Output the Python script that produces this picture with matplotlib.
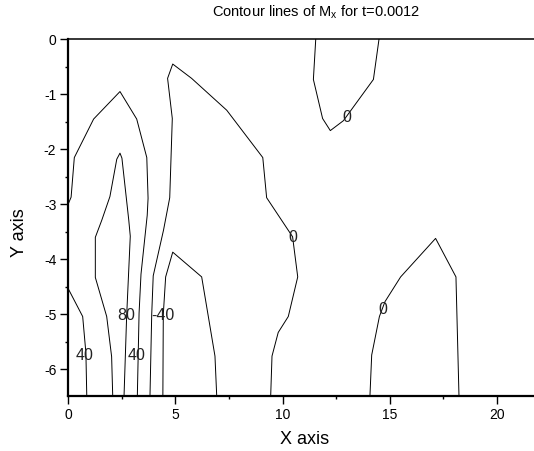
import matplotlib
matplotlib.use("Agg")
import matplotlib.pyplot as plt
from matplotlib.ticker import MultipleLocator

plt.rcParams['font.family'] = ['Liberation Sans', 'DejaVu Sans']
plt.rcParams['axes.unicode_minus'] = False

# contour lines of M_x, one polyline per line
line_c_x = [0.0, 0.68, 0.83, 0.87]
line_c_y = [-4.53, -5.04, -5.7, -6.47]

line_a_x = [0.0, 0.14, 0.29, 1.19, 2.42, 3.2, 3.67, 3.73, 3.69, 3.4, 3.31, 3.23]
line_a_y = [-3.0, -2.87, -2.15, -1.45, -0.95, -1.45, -2.15, -2.89, -3.2, -4.27, -4.98, -6.47]

line_b_x = [2.08, 2.03, 1.8, 1.27, 1.27, 1.57, 1.95, 2.27, 2.42, 2.51, 2.83, 2.9, 2.73, 2.61]
line_b_y = [-6.47, -5.77, -5.04, -4.33, -3.6, -3.29, -2.86, -2.18, -2.07, -2.16, -3.29, -3.58, -5.04, -6.47]

line_d_x = [3.82, 3.9, 3.97, 4.45, 4.74, 4.86, 4.64, 4.88, 5.76, 7.4, 9.08, 9.26,
            10.47, 10.71, 10.27, 9.8, 9.51, 9.45]
line_d_y = [-6.47, -5.0, -4.3, -3.47, -2.88, -1.44, -0.71, -0.45, -0.71, -1.29, -2.15, -2.88,
            -3.59, -4.32, -5.04, -5.33, -5.76, -6.47]

line_e_x = [4.42, 4.44, 4.55, 4.88, 6.23, 6.85, 6.93]
line_e_y = [-6.47, -5.0, -4.32, -3.87, -4.32, -5.76, -6.47]

line_f_x = [11.55, 11.44, 11.87, 12.23, 12.84, 14.24, 14.5]
line_f_y = [0.0, -0.73, -1.44, -1.66, -1.48, -0.73, 0.0]

line_g_x = [14.08, 14.16, 14.52, 14.78, 15.51, 17.14, 18.09, 18.23]
line_g_y = [-6.47, -5.74, -5.04, -4.77, -4.32, -3.62, -4.32, -6.47]

lines = [(line_c_x, line_c_y), (line_a_x, line_a_y), (line_b_x, line_b_y),
         (line_d_x, line_d_y), (line_e_x, line_e_y), (line_f_x, line_f_y),
         (line_g_x, line_g_y)]

# level labels and where they sit
label_text = ['40', '40', '80', '-40', '0', '0', '0']
label_x = [0.79, 3.2, 2.73, 4.41, 10.47, 13.0, 14.66]
label_y = [-5.75, -5.75, -5.03, -5.03, -3.6, -1.43, -4.91]

fig = plt.figure(figsize=(5.34, 4.51), dpi=100)
W, H = 534, 451
ax = fig.add_axes([68.1 / W, (H - 395.7) / H, (W - 68.1) / W, (395.7 - 39.3) / H])

for lx, ly in lines:
    ax.plot(lx, ly, color='black', lw=0.7)

for t, tx, ty in zip(label_text, label_x, label_y):
    ax.text(tx, ty, t, ha='center', va='center', fontsize=11.5, color='#222222')

ax.set_xlim(0, 21.73)
ax.set_ylim(-6.48, 0)
ax.xaxis.set_major_locator(MultipleLocator(5))
ax.xaxis.set_minor_locator(MultipleLocator(2.5))
ax.yaxis.set_major_locator(MultipleLocator(1))
ax.yaxis.set_minor_locator(MultipleLocator(0.5))
ax.tick_params(which='major', direction='out', length=5.5, width=1.0, labelsize=10, pad=3)
ax.tick_params(which='minor', direction='out', length=2.5, width=1.0)
ax.tick_params(axis='both', top=False, right=False)

ax.spines['right'].set_visible(False)
ax.spines['left'].set_linewidth(1.6)
ax.spines['bottom'].set_linewidth(1.6)
ax.spines['top'].set_linewidth(1.1)

fig.text(316 / W, 1 - 12.5 / H, 'Contour lines of M$_\\mathregular{x}$ for t=0.0012',
         ha='center', va='center', fontsize=10.5)
fig.text(305 / W, 1 - 439 / H, 'X axis', ha='center', va='center', fontsize=13)
fig.text(20 / W, 1 - 233 / H, 'Y axis', ha='center', va='center', rotation=90, fontsize=13)

fig.savefig('out.png', dpi=100)
